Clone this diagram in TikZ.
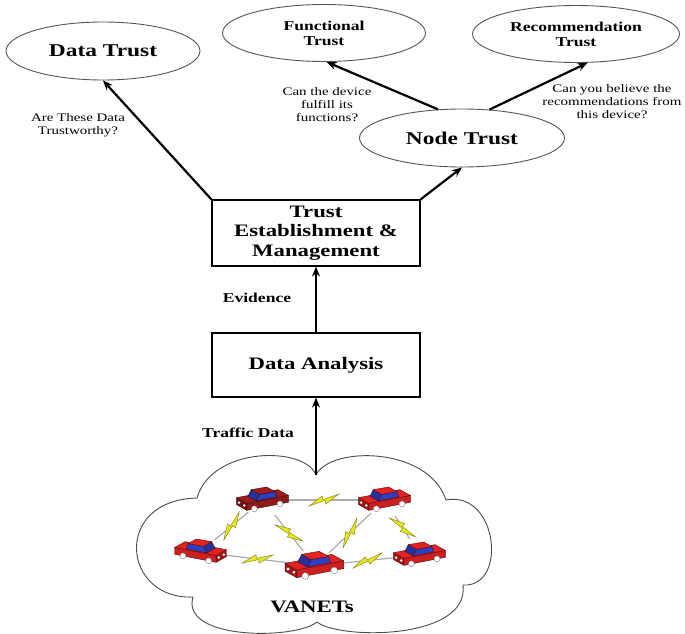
\documentclass[tikz,border=0pt]{standalone}
\usepackage{fontspec}
\setmainfont[FakeStretch=1.3]{Liberation Serif}
\usetikzlibrary{arrows.meta,shapes.geometric}
\definecolor{Rbody}{HTML}{E32222}
\definecolor{Mbody}{HTML}{A01C1C}
\definecolor{Glass}{HTML}{2E3FC4}
\definecolor{Bolt}{HTML}{E6E620}
\definecolor{Edge}{HTML}{555555}
\tikzset{
  trust/.style={ellipse, draw=Edge, line width=0.9pt, inner sep=0pt, align=center},
  stage/.style={rectangle, draw, line width=1.1pt, minimum width=208pt, align=center,
    font=\bfseries\fontsize{17.5}{19.5}\selectfont},
  ask/.style={align=center, font=\fontsize{11.5}{13}\selectfont},
  tag/.style={font=\bfseries\fontsize{13.5}{15}\selectfont},
  flow/.style={-{Stealth[length=10pt, width=8pt]}, line width=2.2pt},
  radio/.style={draw=gray!65, line width=1.2pt, shorten <=19pt, shorten >=19pt},
  shell/.style={draw=#1!40!black, line width=0.4pt},
  pics/car/.style={code={
    % front end, near side, top of the body
    \filldraw[fill=#1!70!black, shell=#1] (-14,9) -- (-23,4) -- (-23,-2) -- (-14,3) -- cycle;
    \filldraw[fill=#1!90!black, shell=#1] (-14,9) -- (22,2) -- (22,-4) -- (-14,3) -- cycle;
    \filldraw[fill=#1, shell=#1] (-14,3) -- (22,-4) -- (13,-9) -- (-23,-2) -- cycle;
    % cabin
    \filldraw[fill=Glass, shell=#1] (-6,0.8) -- (12,-2.7) -- (10.4,-7.3) -- (-3,-5) -- cycle;
    \filldraw[fill=Glass!80!black, shell=#1] (-6,0.8) -- (-13.2,-3.2) -- (-10.2,-9) -- (-3,-5) -- cycle;
    \filldraw[fill=#1, shell=#1] (-3,-5) -- (10.4,-7.3) -- (3.2,-11.3) -- (-10.2,-9) -- cycle;
    % lamps and wheels
    \fill[white] (-16.3,4.8) circle (1.2pt) (-20.8,2.3) circle (1.2pt);
    \filldraw[fill=white, draw=gray] (-7.5,7.7) circle (2.6pt) (14.8,3.4) circle (2.6pt);
  }},
  pics/bolt/.style={code={
    \filldraw[fill=Bolt, draw=Bolt!55!black, line width=0.4pt]
      (-15,6) -- (-2,-4) -- (-1,-0.5) -- (15,-6) -- (2,4) -- (1,0.5) -- cycle;
  }},
}

\begin{document}
\begin{tikzpicture}[x=1pt, y=-1pt]
  \useasboundingbox (0,0) rectangle (685,634);
  % trust kinds
  \node[trust, minimum width=194pt, minimum height=58pt, font=\bfseries\fontsize{18}{20}\selectfont] (datatrust) at (103,51) {Data Trust};
  \node[trust, minimum width=203pt, minimum height=57pt, font=\bfseries\fontsize{13.5}{15}\selectfont] (functrust) at (324,33) {Functional\\Trust};
  \node[trust, minimum width=207pt, minimum height=57pt, font=\bfseries\fontsize{13.5}{15}\selectfont] (rectrust) at (576,34) {Recommendation\\Trust};
  \node[trust, minimum width=205pt, minimum height=58pt, font=\bfseries\fontsize{18}{20}\selectfont] (nodetrust) at (462,138) {Node Trust};
  % processing stages
  \node[stage, minimum height=66pt] (temgmt) at (316,233) {Trust\\Establishment \&\\Management};
  \node[stage, minimum height=64pt] (analysis) at (316,365) {Data Analysis};
  \node[ask] (askdata) at (78,125) {Are These Data\\Trustworthy?};
  \node[ask] (askfunc) at (327,105) {Can the device\\fulfill its\\functions?};
  \node[ask] (askrec) at (612,102) {Can you believe the\\recommendations from\\this device?};
  \node[tag] (evidence) at (257,298) {Evidence};
  \node[tag] (traffic) at (248,433) {Traffic Data};
  \draw[flow] (temgmt.north west) -- (datatrust.south);
  \draw[flow] (temgmt.north east) -- (nodetrust.south);
  \draw[flow] (nodetrust.130) -- (functrust.-85);
  \draw[flow] (nodetrust.46) -- (rectrust.-68);
  \draw[flow] (analysis.north) -- (temgmt.south);
  % vehicle cloud
  \draw[draw=gray!60!black, line width=0.9pt, fill=white]
    (316,475) .. controls (330,446) and (428,446) .. (446,500)
    .. controls (498,490) and (508,588) .. (463,585)
    .. controls (470,640) and (340,640) .. (317,622)
    .. controls (295,640) and (180,640) .. (193,597)
    .. controls (122,600) and (112,500) .. (197,498)
    .. controls (212,446) and (305,446) .. (316,475);
  \coordinate (cloudtop) at (316,475);
  \draw[flow] (cloudtop) -- (analysis.south);
  \coordinate (c1) at (263,500);
  \coordinate (c2) at (385,500);
  \coordinate (c3) at (200,552);
  \coordinate (c4) at (315,566);
  \coordinate (c5) at (420,555);
  \foreach \a/\b in {c1/c2, c1/c3, c1/c4, c2/c4, c2/c5, c3/c4, c4/c5}{
    \draw[radio] (\a) -- (\b);
    \path (\a) -- (\b) pic[pos=0.5, sloped]{bolt};
  }
  \pic[scale=1.15] at (c1) {car=Mbody};
  \pic[scale=1.15] at (c2) {car=Rbody};
  \pic[xscale=-1.15, yscale=1.15] at (c3) {car=Rbody};
  \pic[scale=1.3] at (c4) {car=Rbody};
  \pic[scale=1.15] at (c5) {car=Rbody};
  \node[font=\bfseries\fontsize{17.5}{19}\selectfont] (vanets) at (312,607) {VANETs};
\end{tikzpicture}
\end{document}
